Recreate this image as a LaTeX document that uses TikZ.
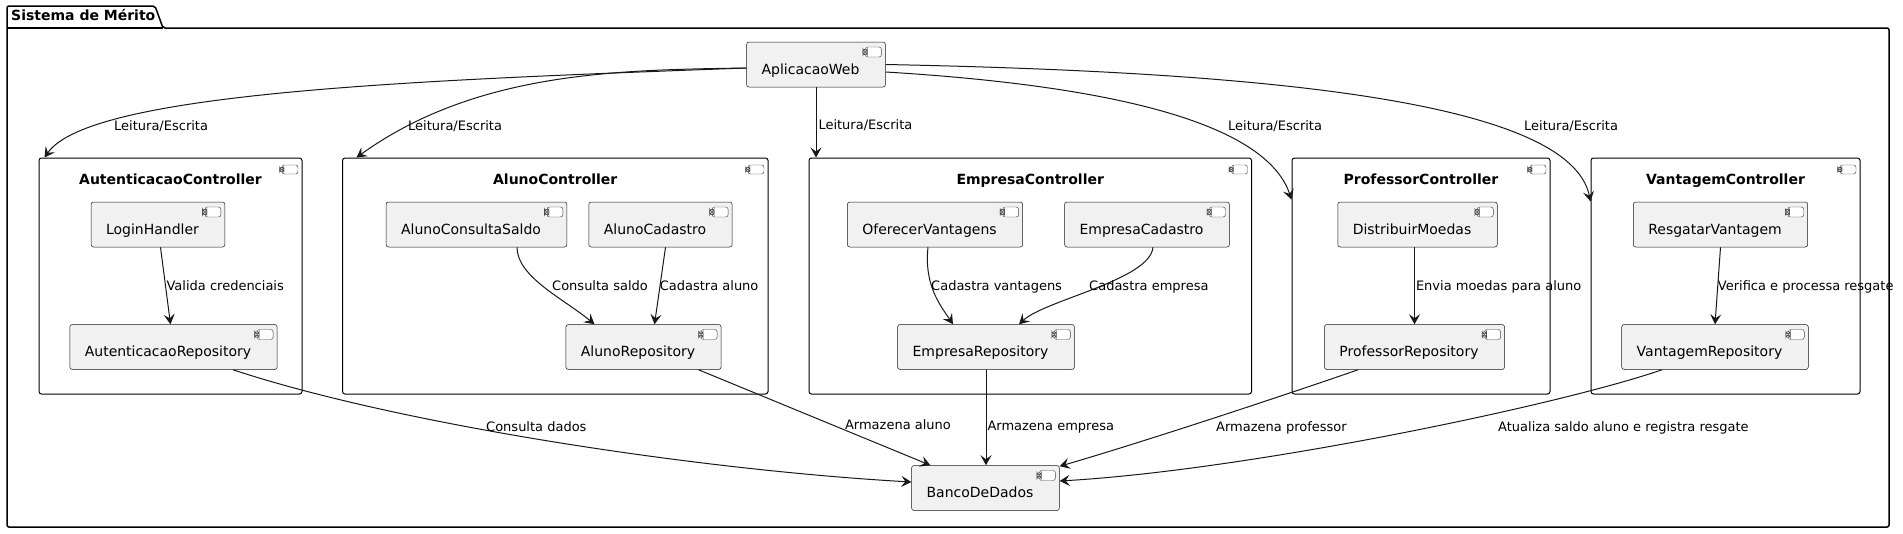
\documentclass[tikz,border=0pt]{standalone}
\usepackage{fontspec}
\setmainfont{DejaVu Sans}
\usepackage{tikz}
\usetikzlibrary{arrows.meta, calc}
\usepackage{xcolor}
\definecolor{compfill}{HTML}{F1F1F1}
\definecolor{umlline}{HTML}{181818}

\newcommand{\compicon}[2]{%
  \draw[line width=0.45pt, draw=umlline!80, fill=white] ([shift={(-20,#1)}]path picture bounding box.north east) rectangle ++(16,#2);
  \draw[line width=0.45pt, draw=umlline!80, fill=white] ([shift={(-22.5,#1+2.3)}]path picture bounding box.north east) rectangle ++(4.5,2);
  \draw[line width=0.45pt, draw=umlline!80, fill=white] ([shift={(-22.5,#1+#2-4.3)}]path picture bounding box.north east) rectangle ++(4.5,2);
}

\begin{document}
\begin{tikzpicture}[x=1pt, y=-1pt,
    comp/.style={draw=umlline, line width=0.5pt, fill=compfill, rounded corners=2.5pt,
      minimum height=45pt, inner xsep=0pt, text height=19pt, text depth=0pt,
      font=\fontsize{14}{16}\selectfont,
      execute at begin node=\hspace*{15pt}, execute at end node=\hspace*{26pt},
      path picture={\compicon{5}{10}}},
    ctr/.style={draw=black, line width=1pt, fill=white, rounded corners=2.5pt,
      minimum height=236pt, inner sep=0pt,
      path picture={\compicon{7}{9}}},
    ctitle/.style={font=\fontsize{14}{16}\selectfont\bfseries, anchor=base, inner sep=0pt},
    pkgtitle/.style={font=\fontsize{14}{16}\selectfont\bfseries, anchor=base west, inner sep=0pt},
    lbl/.style={font=\fontsize{13}{15}\selectfont, anchor=base west, inner sep=0pt},
    arr/.style={draw=umlline, line width=1pt, -{Stealth[length=10pt, width=11pt, inset=4pt]}}]
\useasboundingbox (0,0) rectangle (1903,533);

\draw[line width=1.5pt, rounded corners=2pt] (7,527) -- (7,6) -- (155,6) -- (163,28) -- (1889,28) -- (1889,527) -- cycle;
\draw[line width=1.5pt] (7,28) -- (163,28);
\node[pkgtitle] (pkgt) at (11,20.5) {Sistema de Mérito};

\node[ctr, minimum width=263pt] (autc) at (170.5,276) {};
\node[ctr, minimum width=425.5pt] (alnc) at (555.25,276) {};
\node[ctr, minimum width=442.5pt] (emprc) at (1030.25,276) {};
\node[ctr, minimum width=258pt] (profc) at (1421,276) {};
\node[ctr, minimum width=269pt] (vantc) at (1725.5,276) {};

\node[ctitle] (autct) at (170.5,184.5) {AutenticacaoController};
\node[ctitle] (alnct) at (555.25,184.5) {AlunoController};
\node[ctitle] (emprct) at (1030.25,184.5) {EmpresaController};
\node[ctitle] (profct) at (1421,184.5) {ProfessorController};
\node[ctitle] (vantct) at (1725.5,184.5) {VantagemController};

\node[comp] (web) at (816,64.5) {AplicacaoWeb};
\node[comp] (loginh) at (158,224.5) {LoginHandler};
\node[comp] (autrep) at (173.5,347) {AutenticacaoRepository};
\node[comp] (alcs) at (476.5,224.5) {AlunoConsultaSaldo};
\node[comp] (alcad) at (660.5,224.5) {AlunoCadastro};
\node[comp] (alrep) at (643.5,347) {AlunoRepository};
\node[comp] (ofv) at (935,224.5) {OferecerVantagens};
\node[comp] (empcad) at (1147,224.5) {EmpresaCadastro};
\node[comp] (emprep) at (986,347) {EmpresaRepository};
\node[comp] (dm) at (1417.5,224.5) {DistribuirMoedas};
\node[comp] (profrep) at (1414.5,347) {ProfessorRepository};
\node[comp] (resg) at (1720.5,224.5) {ResgatarVantagem};
\node[comp] (vantrep) at (1715,347) {VantagemRepository};
\node[comp] (banco) at (985.5,488) {BancoDeDados};

\draw[arr] ([yshift=-3.5pt]web.west) .. controls (420,80) and (90,92) .. ([xshift=6pt]autc.north west);
\node[lbl] (lweb1) at (114,130) {Leitura/Escrita};
\draw[arr] ([yshift=-3.5pt]web.west) .. controls (620,70) and (477,71) .. ([xshift=14.5pt]alnc.north west);
\node[lbl] (lweb2) at (408,130) {Leitura/Escrita};
\draw[arr] (web.south) -- (web.south |- emprc.north) node[lbl, pos=.6, xshift=2pt] (lweb3) {Leitura/Escrita};
\draw[arr] ([yshift=-7.5pt]web.east) .. controls (1100,85) and (1265,120) .. ([yshift=-42pt]profc.north west);
\node[lbl] (lweb4) at (1228,130) {Leitura/Escrita};
\draw[arr] (web.east) .. controls (1260,72) and (1570,100) .. ([yshift=-44pt]vantc.north west);
\node[lbl] (lweb5) at (1524,130) {Leitura/Escrita};

\draw[arr] ([xshift=2.5pt]loginh.south) -- ([xshift=-3pt]autrep.north) node[lbl, pos=.56] (lval) {Valida credenciais};
\draw[arr] ([xshift=40.5pt]alcs.south) .. controls (517,277) and (564,299) .. ([xshift=-49pt]alrep.north);
\node[lbl] (lcons) at (552,290) {Consulta saldo};
\draw[arr] ([xshift=5pt]alcad.south) -- ([xshift=11pt]alrep.north) node[lbl, pos=.56] (lcad) {Cadastra aluno};
\draw[arr] ([xshift=-7pt]ofv.south) .. controls (924,285) and (940,305) .. ([xshift=-33pt]emprep.north);
\node[lbl] (lofv) at (931,290) {Cadastra vantagens};
\draw[arr] ([xshift=6pt]empcad.south) .. controls (1150,280) and (1045,300) .. ([xshift=33pt]emprep.north);
\node[lbl] (lempc) at (1089,290) {Cadastra empresa};
\draw[arr] ([xshift=-3pt]dm.south) -- (profrep.north) node[lbl, pos=.56, xshift=1pt] (ldm) {Envia moedas para aluno};
\draw[arr] (resg.south) -- (vantrep.north) node[lbl, pos=.56] (lresg) {Verifica e processa resgate};

\draw[arr] ([xshift=59.5pt]autrep.south) .. controls (400,425) and (700,470) .. ([yshift=6pt]banco.west);
\node[lbl] (lbd1) at (486,431) {Consulta dados};
\draw[arr] ([xshift=55pt]alrep.south) -- ([xshift=19pt]banco.north west) node[lbl, pos=.63] (lbd2) {Armazena aluno};
\draw[arr] (emprep.south) -- (emprep.south |- banco.north) node[lbl, pos=.64, xshift=1pt] (lbd3) {Armazena empresa};
\draw[arr] ([xshift=-56.5pt]profrep.south) .. controls (1300,390) and (1150,440) .. ([yshift=-1pt]banco.north east);
\node[lbl] (lbd4) at (1216,431) {Armazena professor};
\draw[arr] ([xshift=-53pt]vantrep.south) .. controls (1560,405) and (1250,470) .. ([yshift=7pt]banco.east);
\node[lbl] (lbd5) at (1498,431) {Atualiza saldo aluno e registra resgate};
\end{tikzpicture}
\end{document}
